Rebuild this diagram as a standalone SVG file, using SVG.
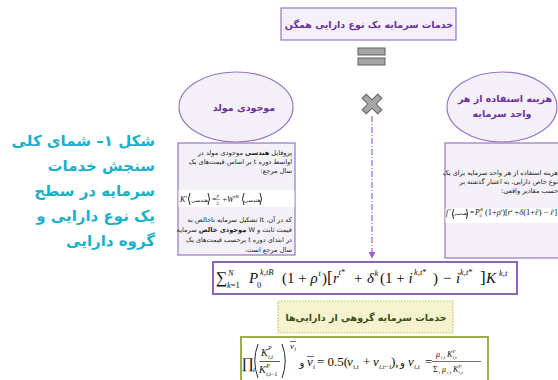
<svg xmlns="http://www.w3.org/2000/svg" width="558" height="380" viewBox="0 0 558 380">
<defs>
<style>
.fa{font-family:"DejaVu Sans","Noto Sans",sans-serif;direction:rtl}
.ttl{font-size:9.5px;font-weight:bold;fill:#7030a0}
.body{font-size:6.6px;fill:#222}
.hd{font-size:15px;font-weight:bold;fill:#19b0c9}
.m{font-family:"Liberation Serif","DejaVu Serif",serif;fill:#111}
.i{font-style:italic}
.pbox{fill:#f3f0f7;stroke:#9677c0;stroke-width:1.2}
.gray{fill:#a6a6a6;stroke:#5e5e5e;stroke-width:1}
.par{fill:none;stroke:#111;stroke-width:0.9}
</style>
<marker id="ah" viewBox="0 0 10 10" refX="9" refY="5" markerWidth="7" markerHeight="7" orient="auto" markerUnits="userSpaceOnUse">
<path d="M0,0 L10,5 L0,10 z" fill="#9a5fd6"/>
</marker>
</defs>
<rect width="558" height="380" fill="#ffffff"/>

<g id="title">
<text class="fa hd" text-anchor="start" x="155" y="146">شکل ۱– شمای کلی</text>
<text class="fa hd" text-anchor="start" x="155" y="171">سنجش خدمات</text>
<text class="fa hd" text-anchor="start" x="155" y="196">سرمایه در سطح</text>
<text class="fa hd" text-anchor="start" x="155" y="221">یک نوع دارایی و</text>
<text class="fa hd" text-anchor="start" x="155" y="246">گروه دارایی</text>
</g>

<g id="top-node">
<rect x="281" y="8" width="175" height="32" class="pbox"/>
<text class="fa ttl" x="369" y="27.5" text-anchor="middle">خدمات سرمایه یک نوع دارایی همگن</text>
</g>

<g id="equals">
<rect x="358" y="48" width="27" height="7" class="gray"/>
<rect x="358" y="58" width="27" height="7" class="gray"/>
</g>

<g id="times">
<polygon class="gray" transform="translate(372,104) rotate(45)" points="-3,-11 3,-11 3,-3 11,-3 11,3 3,3 3,11 -3,11 -3,3 -11,3 -11,-3 -3,-3"/>
</g>

<g id="ellipse-left">
<ellipse cx="236" cy="107" rx="57" ry="35" class="pbox"/>
<text class="fa ttl" x="244" y="110.5" text-anchor="middle">موجودی مولد</text>
</g>

<g id="ellipse-right">
<ellipse cx="502" cy="107" rx="55" ry="35" class="pbox"/>
<text class="fa ttl" x="505" y="101.5" text-anchor="middle" font-size="9">هزینه استفاده از هر</text>
<text class="fa ttl" x="502" y="116.5" text-anchor="middle" font-size="9">واحد سرمایه</text>
</g>

<g id="box-left">
<rect x="178" y="143" width="117" height="112" class="pbox" fill="#f2f0f5"/>
<rect x="178.6" y="190" width="115.8" height="17" fill="#ffffff"/>
<text class="fa body" text-anchor="start" x="292" y="155">پروفایل <tspan font-weight="bold">هندسی</tspan> موجودی مولد در</text>
<text class="fa body" text-anchor="start" x="292" y="164">اواسط دوره t بر اساس قیمت‌های یک</text>
<text class="fa body" text-anchor="start" x="292" y="173">سال مرجع:</text>
<text class="fa body" text-anchor="start" x="292" y="222">که در آن، It تشکیل سرمایه ناخالص به</text>
<text class="fa body" text-anchor="start" x="292" y="232">قیمت ثابت و W <tspan font-weight="bold">موجودی خالص</tspan> سرمایه</text>
<text class="fa body" text-anchor="start" x="292" y="242">در ابتدای دوره t برحسب قیمت‌های یک</text>
<text class="fa body" text-anchor="start" x="292" y="252">سال مرجع است.</text>
<g class="m" font-size="8">
<text x="180" y="202" class="i">K</text>
<text x="185.5" y="198" font-size="5" class="i">t</text>
<path class="par" d="M190,193 Q187,199 190,205"/>
<text x="199.5" y="201.5" font-size="5.5" text-anchor="middle" style="direction:rtl;font-family:'DejaVu Sans',sans-serif">هندسی</text>
<path class="par" d="M208,193 Q211,199 208,205"/>
<text x="212" y="202">=</text>
<text x="216.5" y="198" font-size="5" class="i">I</text>
<text x="218.3" y="196.5" font-size="3.5" class="i">t</text>
<line x1="216" y1="199.6" x2="220" y2="199.6" stroke="#111" stroke-width="0.4"/>
<text x="216.5" y="205" font-size="5">2</text>
<text x="222.5" y="202">+</text>
<text x="227" y="202" class="i">W</text>
<text x="234" y="198" font-size="5" class="i">tB</text>
<path class="par" d="M244,193 Q241,199 244,205"/>
<text x="252" y="201.5" font-size="5.5" text-anchor="middle" style="direction:rtl;font-family:'DejaVu Sans',sans-serif">هندسی</text>
<path class="par" d="M260,193 Q263,199 260,205"/>
</g>
</g>

<g id="box-right">
<rect x="445" y="143" width="125" height="115" class="pbox" fill="#f2f0f5"/>
<rect x="445.6" y="208" width="124" height="15" fill="#ffffff"/>
<text class="fa body" text-anchor="start" x="558" y="175">هزینه استفاده از هر واحد سرمایه برای یک</text>
<text class="fa body" text-anchor="start" x="558" y="184">نوع خاص دارایی، به اعتبار گذشته بر</text>
<text class="fa body" text-anchor="start" x="558" y="193">حسب مقادیر واقعی:</text>
<g class="m" font-size="7.5">
<text x="446" y="215" class="i">f</text>
<text x="449.5" y="211" font-size="4.5" class="i">t</text>
<path class="par" d="M453.5,209 Q451.5,214 453.5,219"/>
<text x="460" y="214.5" font-size="4.6" text-anchor="middle" style="direction:rtl;font-family:'DejaVu Sans',sans-serif">هندسی</text>
<path class="par" d="M466.5,209 Q468.5,214 466.5,219"/>
<text x="470" y="215">=</text>
<text x="475" y="215" class="i">P</text>
<text x="479.5" y="211" font-size="4" class="i">tB</text>
<text x="479.5" y="217" font-size="4">0</text>
<text x="485" y="215" textLength="72" lengthAdjust="spacingAndGlyphs">(1+<tspan class="i">ρ</tspan><tspan font-size="4.5" dy="-3" class="i">t</tspan><tspan dy="3">)[</tspan><tspan class="i">r</tspan><tspan font-size="4.5" dy="-3" class="i">t</tspan><tspan dy="3"> +</tspan><tspan class="i">δ</tspan>(1+<tspan class="i">i</tspan><tspan font-size="4.5" dy="-3" class="i">t</tspan><tspan dy="3">) − </tspan><tspan class="i">i</tspan><tspan font-size="4.5" dy="-3" class="i">t</tspan><tspan dy="3">]</tspan></text>
</g>
</g>

<g id="connectors">
<line x1="372" y1="116" x2="372" y2="258" stroke="#9a5fd6" stroke-width="1.2" stroke-dasharray="6,2,1,2" marker-end="url(#ah)"/>
</g>

<g id="formula-main">
<rect x="213" y="262" width="304" height="32" fill="#ffffff" stroke="#8e63b8" stroke-width="2"/>
<g class="m" font-size="15">
<text x="216" y="283" font-size="16">∑</text>
<text x="228" y="276" font-size="8.5" class="i">N</text>
<text x="227" y="288" font-size="8.5"><tspan class="i">k</tspan>=1</text>
<text x="249" y="283" class="i">P</text>
<text x="257" y="288" font-size="8.5">0</text>
<text x="260" y="275" font-size="8.5" class="i">k,tB</text>
<text x="282" y="283">(1 + <tspan class="i">ρ</tspan></text>
<text x="318.5" y="276" font-size="8.5" class="i">t</text>
<text x="322" y="283">)</text>
<text x="327" y="283" font-size="17">[</text>
<text x="333" y="283" class="i">r</text>
<text x="338.5" y="275" font-size="8.5"><tspan class="i">t</tspan>*</text>
<text x="354" y="283">+</text>
<text x="367" y="283" class="i">δ</text>
<text x="374.5" y="276" font-size="8.5" class="i">k</text>
<text x="380" y="283">(1 + <tspan class="i">i</tspan></text>
<text x="414" y="275" font-size="8.5"><tspan class="i">k,t</tspan>*</text>
<text x="433" y="283">)</text>
<text x="443" y="283">−</text>
<text x="456" y="283" class="i">i</text>
<text x="460" y="275" font-size="8.5"><tspan class="i">k,t</tspan>*</text>
<text x="480" y="283" font-size="17">]</text>
<text x="486" y="283" class="i">K</text>
<text x="499" y="276" font-size="8.5" class="i">k,t</text>
</g>
</g>

<g id="group-node">
<rect x="278" y="301" width="175" height="32" fill="#f5f3cf" stroke="#c9c450" stroke-width="1.2" stroke-dasharray="1.5,1.5"/>
<text class="fa" x="366" y="320.5" text-anchor="middle" font-size="9.5" font-weight="bold" fill="#3f4d17">خدمات سرمایه گروهی از دارایی‌ها</text>
</g>

<g id="formula-group">
<rect x="241" y="337" width="247" height="50" fill="#ffffff" stroke="#9bad4e" stroke-width="2"/>
<g class="m" font-size="13">
<text x="241.5" y="368" font-size="15">∏</text>
<text x="253" y="372" font-size="7" class="i">i</text>
<path class="par" d="M258,344 Q251.5,361 258,378"/>
<text x="261" y="356" font-size="10" class="i">K</text>
<text x="268" y="350" font-size="6" class="i">P</text>
<text x="268" y="358.5" font-size="6" class="i">i,t</text>
<line x1="259.5" y1="361.5" x2="280" y2="361.5" stroke="#111" stroke-width="0.7"/>
<text x="259" y="373" font-size="10" class="i">K</text>
<text x="266" y="367.5" font-size="6" class="i">P</text>
<text x="266" y="376" font-size="6"><tspan class="i">i,t</tspan>−1</text>
<path class="par" d="M282,344 Q288.5,361 282,378"/>
<text x="290" y="349" font-size="9" class="i">v</text>
<line x1="290" y1="341.5" x2="296" y2="341.5" stroke="#111" stroke-width="0.6"/>
<text x="294.5" y="351" font-size="5.5" class="i">i</text>
<text x="302" y="366" font-size="10" text-anchor="middle" style="font-family:'DejaVu Sans',sans-serif">و</text>
<text x="307" y="366" class="i">v</text>
<line x1="307" y1="356.5" x2="314" y2="356.5" stroke="#111" stroke-width="0.6"/>
<text x="313" y="369" font-size="7" class="i">i</text>
<text x="317" y="366">= 0.5(</text>
<text x="347" y="366" class="i">v</text>
<text x="353" y="369" font-size="7" class="i">i,t</text>
<text x="363" y="366">+</text>
<text x="373" y="366" class="i">v</text>
<text x="379" y="369" font-size="7"><tspan class="i">i,t</tspan>−1</text>
<text x="391" y="366">),</text>
<text x="402.5" y="366" font-size="10" text-anchor="middle" style="font-family:'DejaVu Sans',sans-serif">و</text>
<text x="408" y="366" class="i">v</text>
<text x="414" y="369" font-size="7" class="i">i,t</text>
<text x="425" y="366">=</text>
<text x="436" y="357" font-size="8" class="i">μ</text>
<text x="441" y="359" font-size="5" class="i">i,t</text>
<text x="447" y="357" font-size="8" class="i">K</text>
<text x="452.5" y="353" font-size="5" class="i">P</text>
<text x="452.5" y="359" font-size="5" class="i">i,t</text>
<line x1="432" y1="361.5" x2="481" y2="361.5" stroke="#111" stroke-width="0.6"/>
<text x="433" y="372" font-size="8">Σ</text>
<text x="438.5" y="374" font-size="5" class="i">i</text>
<text x="442" y="372" font-size="8" class="i">μ</text>
<text x="447" y="374" font-size="5" class="i">i,t</text>
<text x="453" y="372" font-size="8" class="i">K</text>
<text x="458.5" y="368" font-size="5" class="i">P</text>
<text x="458.5" y="374" font-size="5" class="i">i,t</text>
</g>
</g>
</svg>
